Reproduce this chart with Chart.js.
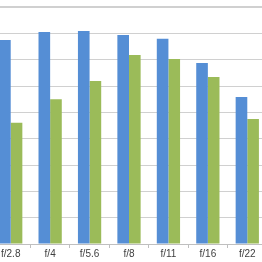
<!DOCTYPE html>
<html>
<head>
<meta charset="utf-8">
<script src="https://cdn.jsdelivr.net/npm/chart.js@4.4.1/dist/chart.umd.min.js"></script>
<style>
  html,body{margin:0;padding:0;background:#fff;overflow:hidden;}
  body{width:262px;height:262px;position:relative;}
  #wrap{position:absolute;left:-9px;top:0;width:276px;height:262px;}
</style>
</head>
<body>
<div id="wrap"><canvas id="c"></canvas></div>
<script>
// aperture stops
const labels = ["f/2.8","f/4","f/5.6","f/8","f/11","f/16","f/22"];
// series values (arbitrary units, axis 0..9)
const blueVals  = [7.75, 8.05, 8.09, 7.94, 7.79, 6.87, 5.58];
const greenVals = [4.60, 5.50, 6.19, 7.18, 7.03, 6.34, 4.75];
const yMax = 9, yStep = 1;

const ctx = document.getElementById("c").getContext("2d");
new Chart(ctx, {
  type: "bar",
  data: {
    labels: labels,
    datasets: [
      { label: "A", data: blueVals, backgroundColor: "#558ed5", borderWidth: 0,
        categoryPercentage: 0.59, barPercentage: 1.0 },
      { label: "B", data: greenVals, backgroundColor: "#9bbb59", borderWidth: 0,
        categoryPercentage: 0.59, barPercentage: 1.0 }
    ]
  },
  options: {
    responsive: true,
    maintainAspectRatio: false,
    animation: false,
    layout: { padding: { top: 7, left: 0, right: 0, bottom: 0 } },
    plugins: { legend: { display: false }, tooltip: { enabled: false } },
    scales: {
      x: {
        grid: { display: true, drawOnChartArea: false, drawTicks: true, tickLength: 4, color: "#bfbfbf", offset: true },
        border: { display: true, color: "#bfbfbf" },
        ticks: { color: "#404040", font: { family: "Liberation Sans", size: 10 }, padding: 0, maxRotation: 0 },
        afterFit: s => { s.height = 18; }
      },
      y: {
        min: 0, max: yMax,
        ticks: { display: false, stepSize: yStep },
        grid: { color: "#d0d0d0", drawTicks: false,
                lineWidth: c => (c.tick && c.tick.value === yMax) ? 2 : 1 },
        border: { display: false },
        afterFit: s => { s.width = 0; }
      }
    }
  }
});
</script>
</body>
</html>
